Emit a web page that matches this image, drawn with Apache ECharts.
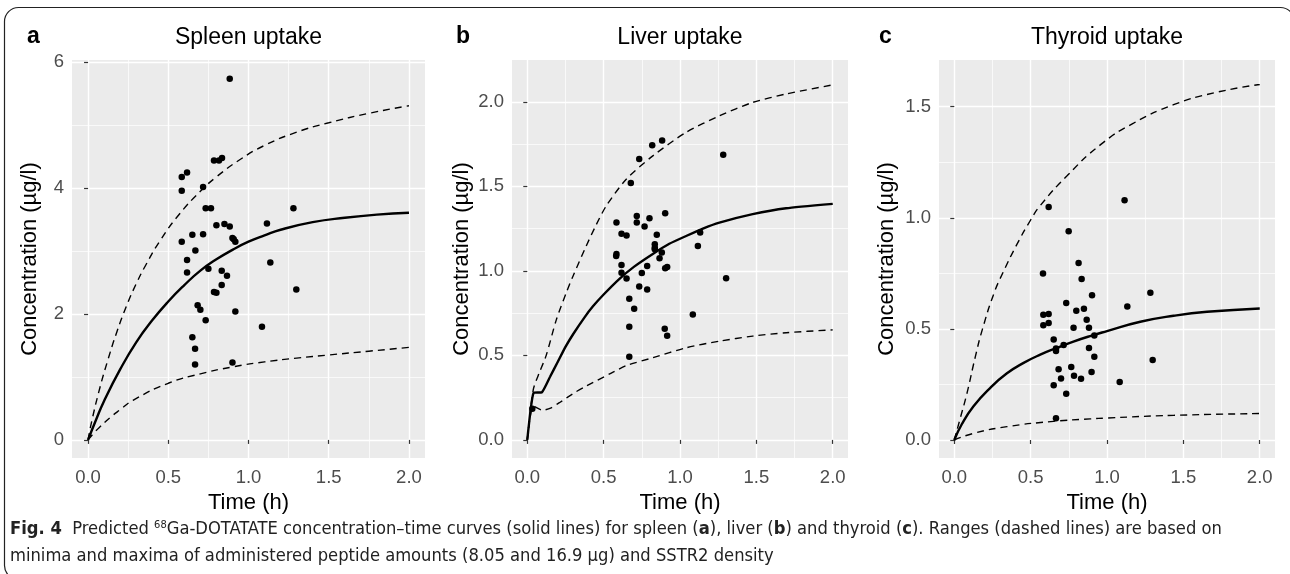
<!DOCTYPE html>
<html>
<head>
<meta charset="utf-8">
<title>Fig. 4</title>
<script src="https://cdn.jsdelivr.net/npm/echarts@6/dist/echarts.min.js"></script>
<style>
html, body { margin: 0; padding: 0; background: #fff; }
#chart { width: 1290px; height: 574px; }
</style>
</head>
<body>
<div id="chart"></div>
<script>
// observed points [time (h), concentration (ug/l)]
const spleenObs = [[0.883,5.74],[0.584,4.18],[0.617,4.25],[0.584,3.96],[0.717,4.02],[0.785,4.44],[0.816,4.44],[0.835,4.48],
  [0.733,3.68],[0.766,3.68],[1.28,3.68],[1.115,3.44],[0.65,3.26],[0.717,3.27],[0.80,3.41],[0.85,3.43],[0.883,3.39],
  [0.90,3.21],[0.908,3.19],[0.918,3.15],[0.584,3.15],[0.669,3.01],[0.617,2.86],[0.617,2.66],[0.75,2.72],[0.833,2.69],
  [0.866,2.61],[1.136,2.82],[0.833,2.46],[0.785,2.35],[0.80,2.34],[1.298,2.39],[0.683,2.14],[0.70,2.07],[0.918,2.04],
  [0.733,1.90],[1.084,1.80],[0.65,1.63],[0.667,1.45],[0.667,1.20],[0.90,1.23]];
const liverObs = [[0.818,1.743],[0.883,1.771],[0.733,1.662],[1.283,1.686],[0.678,1.52],[0.584,1.286],[0.717,1.325],
  [0.717,1.286],[0.80,1.311],[0.903,1.341],[0.768,1.262],[0.617,1.22],[0.65,1.209],[0.848,1.214],[0.584,1.10],[0.582,1.088],
  [0.835,1.157],[0.835,1.137],[0.835,1.127],[0.881,1.108],[0.866,1.074],[1.117,1.147],[1.132,1.226],[0.617,1.034],
  [0.785,1.028],[0.903,1.015],[0.916,1.023],[0.617,0.989],[0.75,0.987],[0.65,0.954],[1.302,0.956],[0.733,0.908],
  [0.785,0.889],[0.668,0.835],[0.70,0.776],[1.084,0.742],[0.668,0.669],[0.90,0.657],[0.916,0.616],[0.668,0.492],[0.033,0.184]];
const thyroidObs = [[0.618,1.049],[1.115,1.079],[0.749,0.939],[0.814,0.797],[0.581,0.749],[0.834,0.725],[0.902,0.651],
  [1.284,0.663],[0.733,0.616],[1.133,0.601],[0.799,0.582],[0.849,0.591],[0.583,0.564],[0.618,0.567],[0.618,0.526],
  [0.583,0.516],[0.867,0.541],[0.781,0.505],[0.882,0.505],[0.917,0.47],[0.651,0.452],[0.716,0.428],[0.666,0.412],
  [0.666,0.40],[0.882,0.414],[0.917,0.375],[1.299,0.36],[0.683,0.318],[0.766,0.328],[0.699,0.277],[0.784,0.289],
  [0.83,0.276],[0.899,0.306],[1.083,0.261],[0.651,0.246],[0.733,0.208],[0.666,0.098]];

// predicted curves (solid) and ranges (dashed)
const spleenFit = [[0,0],[0.05,0.32],[0.1,0.62],[0.2,1.12],[0.3,1.55],[0.4,1.9],[0.5,2.2],[0.6,2.46],[0.7,2.69],
  [0.8,2.87],[0.9,3.02],[1.0,3.15],[1.1,3.25],[1.2,3.34],[1.4,3.46],[1.6,3.53],[1.8,3.58],[2.0,3.61]];
const spleenHigh = [[0,0],[0.025,0.32],[0.075,0.84],[0.12,1.24],[0.18,1.72],[0.24,2.13],[0.3,2.48],[0.36,2.78],[0.45,3.17],
  [0.57,3.59],[0.7,3.95],[0.8,4.18],[0.95,4.46],[1.1,4.68],[1.3,4.89],[1.5,5.04],[1.75,5.19],[2.0,5.31]];
const spleenLow = [[0,0],[0.04,0.12],[0.075,0.21],[0.14,0.36],[0.2,0.48],[0.28,0.63],[0.5,0.9],[0.7,1.05],[0.9,1.16],
  [1.1,1.24],[1.3,1.3],[1.5,1.35],[1.75,1.41],[2.0,1.47]];

const liverFit = [[0,0],[0.041,0.278],[0.096,0.282],[0.15,0.375],[0.2,0.462],[0.25,0.55],[0.3,0.625],
  [0.375,0.725],[0.43,0.79],[0.5,0.86],[0.6,0.95],[0.7,1.025],[0.822,1.1],[0.93,1.16],[1.04,1.206],
  [1.15,1.25],[1.258,1.285],[1.476,1.335],[1.695,1.37],[2.0,1.396]];
const liverHigh = [[0,0],[0.04,0.3],[0.08,0.4],[0.124,0.5],[0.19,0.71],[0.255,0.87],[0.3,0.97],[0.386,1.147],[0.45,1.27],
  [0.517,1.384],[0.648,1.542],[0.822,1.68],[1.04,1.819],[1.258,1.917],[1.476,1.996],[1.695,2.046],[2.0,2.1]];
const liverLow = [[0,0],[0.04,0.2],[0.1,0.175],[0.157,0.19],[0.21,0.22],[0.32,0.285],[0.386,0.318],[0.55,0.395],
  [0.65,0.44],[0.822,0.486],[1.04,0.545],[1.258,0.584],[1.476,0.614],[1.695,0.634],[2.0,0.651]];

const thyroidFit = [[0,0],[0.05,0.072],[0.126,0.152],[0.236,0.235],[0.345,0.30],[0.454,0.347],[0.563,0.384],
  [0.673,0.415],[0.78,0.443],[0.9,0.47],[1.0,0.49],[1.218,0.532],[1.436,0.559],[1.655,0.577],[2.0,0.592]];
const thyroidHigh = [[0,0],[0.04,0.1],[0.083,0.21],[0.138,0.375],[0.185,0.5],[0.26,0.66],[0.32,0.755],[0.41,0.88],
  [0.5,0.99],[0.563,1.055],[0.74,1.19],[0.956,1.328],[1.174,1.426],[1.436,1.509],[1.7,1.562],[2.0,1.6]];
const thyroidLow = [[0,0],[0.127,0.03],[0.345,0.06],[0.65,0.084],[0.89,0.095],[1.0,0.099],[1.436,0.111],[2.0,0.119]];

const xTicks = [0, 0.5, 1, 1.5, 2];
const spleenTicks = [0, 2, 4, 6];
const liverTicks = [0, 0.5, 1, 1.5, 2];
const thyroidTicks = [0, 0.5, 1, 1.5];

const panelTitles = ['Spleen uptake', 'Liver uptake', 'Thyroid uptake'];
const panelLetters = ['a', 'b', 'c'];

const FONT = 'Liberation Sans, Arial, sans-serif';
const CAPFONT = 'DejaVu Sans Condensed, sans-serif';

const chart = echarts.init(document.getElementById('chart'));

const grids = [
  { left: 72, top: 60, width: 353, height: 398 },
  { left: 512, top: 60, width: 336, height: 398 },
  { left: 939, top: 60, width: 336, height: 398 }
].map(g => Object.assign(g, { show: true, backgroundColor: '#EBEBEB', borderWidth: 0 }));

function axisCommon(ticks, step, fmt) {
  return {
    type: 'value',
    minInterval: step,
    maxInterval: step,
    axisLine: { show: false },
    axisTick: { show: true, length: 4, customValues: ticks, lineStyle: { color: '#333333', width: 1.2 } },
    axisLabel: {
      customValues: ticks,
      color: '#4D4D4D', fontSize: 18.5, fontFamily: FONT, margin: 8, formatter: fmt
    },
    splitLine: { show: true, lineStyle: { color: '#FFFFFF', width: 1.4 } },
    minorTick: { show: false, splitNumber: 2 },
    minorSplitLine: { show: true, lineStyle: { color: '#FFFFFF', width: 0.7 } },
    nameLocation: 'middle',
    nameTextStyle: { color: '#000', fontSize: 22, fontFamily: FONT }
  };
}

const f1 = v => v.toFixed(1);
const f0 = v => String(v);

const xAxes = [0, 1, 2].map(i => {
  const a = Object.assign(axisCommon(xTicks, 0.5, f1), {
    gridIndex: i, min: -0.1, max: 2.1, name: 'Time (h)', nameGap: 28
  });
  a.axisLabel.margin = 10;
  return a;
});

const yAxes = [
  Object.assign(axisCommon(spleenTicks, 2, f0), { gridIndex: 0, min: -0.2875, max: 6.0375, nameGap: 31 }),
  Object.assign(axisCommon(liverTicks, 0.5, f1), { gridIndex: 1, min: -0.107, max: 2.247, nameGap: 39 }),
  Object.assign(axisCommon(thyroidTicks, 0.5, f1), { gridIndex: 2, min: -0.081, max: 1.71, nameGap: 41 })
].map(a => Object.assign(a, { name: 'Concentration (\u00B5g/l)' }));

function curve(data, i, dashed) {
  return {
    type: 'line', data: data, xAxisIndex: i, yAxisIndex: i,
    symbol: 'none', smooth: 0.5, silent: true,
    lineStyle: dashed ? { color: '#000', width: 1.4, type: [7, 5] } : { color: '#000', width: 2.4 },
    z: 3
  };
}
function points(data, i) {
  return {
    type: 'scatter', data: data, xAxisIndex: i, yAxisIndex: i,
    symbol: 'circle', symbolSize: 6.5, itemStyle: { color: '#000', opacity: 1 }, silent: true, z: 4
  };
}

const obs = [spleenObs, liverObs, thyroidObs];
const fits = [spleenFit, liverFit, thyroidFit];
const highs = [spleenHigh, liverHigh, thyroidHigh];
const lows = [spleenLow, liverLow, thyroidLow];

const series = [];
for (let i = 0; i < 3; i++) {
  series.push(curve(highs[i], i, true));
  series.push(curve(lows[i], i, true));
  series.push(curve(fits[i], i, false));
  series.push(points(obs[i], i));
}
// liver curves have a kink near the start, keep those less rounded
series[4].smooth = 0.25;
series[5].smooth = 0.25;
series[6].smooth = 0.15;

const titleX = [248.5, 680, 1107];
const letterX = [27, 456, 879];
const graphic = [
  {
    type: 'rect', silent: true, z: -1,
    shape: { x: 4.5, y: 7.5, width: 1290, height: 572, r: 14 },
    style: { fill: 'none', stroke: '#222', lineWidth: 1.2 }
  }
];
for (let i = 0; i < 3; i++) {
  graphic.push({
    type: 'text', x: titleX[i], y: 49, silent: true,
    style: { text: panelTitles[i], font: '23px ' + FONT, fill: '#000', textAlign: 'center', textVerticalAlign: 'bottom' }
  });
  graphic.push({
    type: 'text', x: letterX[i], y: 48, silent: true,
    style: { text: panelLetters[i], font: 'bold 23px ' + FONT, fill: '#000', textAlign: 'left', textVerticalAlign: 'bottom' }
  });
}
graphic.push({
  type: 'text', x: 10, y: 520, silent: true,
  style: {
    text: '{b|Fig. 4}  Predicted {s|68}Ga-DOTATATE concentration\u2013time curves (solid lines) for spleen ({b|a}), liver ({b|b}) and thyroid ({b|c}). Ranges (dashed lines) are based on',
    font: '18.2px ' + CAPFONT, fill: '#222', textAlign: 'left', textVerticalAlign: 'top',
    rich: {
      b: { fontWeight: 'bold', fontSize: 18.2, fontFamily: CAPFONT, fill: '#222' },
      s: { fontSize: 11, fontFamily: CAPFONT, verticalAlign: 'top', fill: '#222' }
    }
  }
});
graphic.push({
  type: 'text', x: 10, y: 547, silent: true,
  style: {
    text: 'minima and maxima of administered peptide amounts (8.05 and 16.9 \u00B5g) and SSTR2 density',
    font: '18.2px ' + CAPFONT, fill: '#222', textAlign: 'left', textVerticalAlign: 'top'
  }
});

chart.setOption({
  backgroundColor: '#FFFFFF',
  animation: false,
  grid: grids,
  xAxis: xAxes,
  yAxis: yAxes,
  series: series,
  graphic: graphic
});
</script>
</body>
</html>
